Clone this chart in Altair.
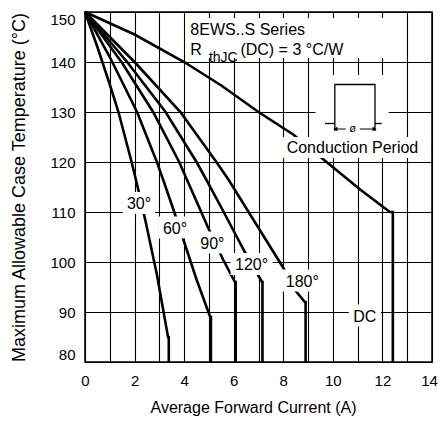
import altair as alt
import pandas as pd

FONT = "Liberation Sans"

# ---------------- data ----------------
x_ticks = list(range(0, 15))
y_ticks = [80, 90, 100, 110, 120, 130, 140, 150]

curve_names = ["DC", "180°", "120°", "90°", "60°", "30°"]
dc_i = [0, 2, 4, 5.5, 7, 8.4, 9.5, 11.1, 12.3, 12.42, 12.42]
dc_t = [150, 145.5, 140, 135.3, 130, 125.5, 121, 114.5, 110, 110, 80]
c180_i = [0, 2.0, 3.85, 5.3, 5.8, 6.65, 7.98, 8.47, 8.87, 8.9, 8.9]
c180_t = [150, 140, 130, 120, 116.4, 109.6, 99, 94.4, 92, 92, 80]
c120_i = [0, 1.7, 3.25, 4.5, 4.9, 5.5, 6.0, 6.45, 6.98, 7.14, 7.16, 7.16]
c120_t = [150, 140, 130, 120, 116.4, 110.9, 106.2, 102, 97.4, 96, 96, 80]
c90_i = [0, 1.5, 2.75, 3.8, 4.11, 4.6, 5.0, 5.57, 6.05, 6.08, 6.08]
c90_t = [150, 139.8, 130, 120, 116.5, 111, 106.5, 100.5, 96, 96, 80]
c60_i = [0, 1.0, 2.1, 2.9, 3.15, 3.6, 4.0, 4.5, 5.05, 5.08, 5.08]
c60_t = [150, 141, 130, 120, 116.5, 110, 104, 96.5, 89, 89, 80]
c30_i = [0, 0.5, 1.0, 1.35, 1.88, 2.1, 2.45, 2.9, 3.35, 3.38, 3.38]
c30_t = [150, 143, 135.5, 130, 120, 115.5, 108, 97.5, 85, 85, 80]

label_text = ["30°", "60°", "90°", "120°", "180°", "DC"]
label_i = [2.18, 3.63, 5.14, 6.72, 8.77, 11.29]
label_t = [110.6, 105.7, 102.7, 98.4, 95.1, 88.1]

# white annotation backgrounds: series note, pulse sketch, "Conduction Period"
box_i1 = [4.05, 9.3, 7.85]
box_i2 = [12.2, 12.25, 13.75]
box_t1 = [148.8, 137.4, 125.0]
box_t2 = [140.8, 124.8, 120.8]

note_text = ["8EWS..S Series", "R", "(DC) = 3 °C/W"]
note_i = [4.25, 4.25, 6.27]
note_t = [145.4, 141.4, 141.4]
sub_text = ["thJC"]
sub_i = [5.0]
sub_t = [140.0]

cond_text = ["Conduction Period"]
cond_i = [10.79]
cond_t = [121.9]

# pulse sketch (segments)
pulse_seg = [0, 0, 1, 1, 1, 1, 2, 2]
pulse_i = [9.68, 10.08, 10.08, 10.08, 11.7, 11.7, 11.7, 11.97]
pulse_t = [127.7, 127.7, 126.2, 135.5, 135.5, 126.2, 127.7, 127.7]
arrow_i = [10.1, 11.68]
arrow_t = [126.6, 126.6]
arrow_shape = ["triangle-left", "triangle-right"]
phi_text = ["ø"]
phi_i = [10.8]
phi_t = [126.7]

# ---------------- tables ----------------
rows = []
for name, xs_, ts_ in zip(curve_names,
                          [dc_i, c180_i, c120_i, c90_i, c60_i, c30_i],
                          [dc_t, c180_t, c120_t, c90_t, c60_t, c30_t]):
    for k, (a, b) in enumerate(zip(xs_, ts_)):
        rows.append({"curve": name, "order": k, "i": a, "t": b})
curves = pd.DataFrame(rows)
labels = pd.DataFrame({"label": label_text, "i": label_i, "t": label_t})
boxes = pd.DataFrame({"i": box_i1, "i2": box_i2, "t": box_t1, "t2": box_t2})
notes = pd.DataFrame({"label": note_text, "i": note_i, "t": note_t})
subs = pd.DataFrame({"label": sub_text, "i": sub_i, "t": sub_t})
cond = pd.DataFrame({"label": cond_text, "i": cond_i, "t": cond_t})
pulse = pd.DataFrame({"seg": pulse_seg, "order": list(range(len(pulse_i))), "i": pulse_i, "t": pulse_t})
arrow = pd.DataFrame({"i": arrow_i, "t": arrow_t, "shape": arrow_shape})
phi = pd.DataFrame({"label": phi_text, "i": phi_i, "t": phi_t})

xs = alt.Scale(domain=[0, 14], nice=False, zero=False)
ys = alt.Scale(domain=[80, 150], nice=False, zero=False)

x_axis = alt.Axis(
    values=x_ticks, labelExpr="datum.value % 2 === 0 ? datum.label : ''",
    grid=True, gridColor="black", gridWidth=1.1, gridOpacity=1,
    ticks=False, tickSize=0, domain=False, labelOverlap=False,
    labelFont=FONT, labelFontSize=15, labelColor="black", labelPadding=11, labelFlush=False,
    labelOffset={"condition": {"test": "datum.value === 14", "value": -3}, "value": 0},
    title="Average Forward Current (A)", titleFont=FONT, titleFontSize=16,
    titleFontWeight="normal", titleColor="black",
    titleX=168, titleY=37, titleAlign="center", titleBaseline="top")
y_axis = alt.Axis(
    values=y_ticks, grid=True, gridColor="black", gridWidth=1.1, gridOpacity=1,
    ticks=False, tickSize=0, domain=False, labelOverlap=False,
    labelFont=FONT, labelFontSize=15, labelColor="black", labelPadding=10,
    labelFlush=True, labelFlushOffset=0,
    title="Maximum Allowable Case Temperature (°C)", titleFont=FONT, titleFontSize=18,
    titleFontWeight="normal", titleColor="black",
    titleX=-57, titleY=175, titleAlign="center", titleBaseline="bottom", titleAngle=-90)


def X():
    return alt.X("i:Q", scale=xs, axis=x_axis)


def Y():
    return alt.Y("t:Q", scale=ys, axis=y_axis)


curve_layer = alt.Chart(curves).mark_line(color="black", strokeWidth=2.6).encode(
    x=X(), y=Y(), detail="curve:N", order="order:Q")

box_layer = alt.Chart(boxes).mark_rect(fill="white").encode(
    x=X(), x2="i2:Q", y=Y(), y2="t2:Q")

lab_box_short = alt.Chart(labels).transform_filter("length(datum.label) <= 3").mark_rect(
    fill="white", width=32, height=22, yOffset=-6).encode(x=X(), y=Y())
lab_box_long = alt.Chart(labels).transform_filter("length(datum.label) > 3").mark_rect(
    fill="white", width=42, height=22, yOffset=-6).encode(x=X(), y=Y())

lab_text = alt.Chart(labels).mark_text(
    font=FONT, fontSize=16, color="black", align="center", baseline="alphabetic").encode(
    x=X(), y=Y(), text="label:N")

note_layer = alt.Chart(notes).mark_text(
    font=FONT, fontSize=16, color="black", align="left", baseline="alphabetic").encode(
    x=X(), y=Y(), text="label:N")
sub_layer = alt.Chart(subs).mark_text(
    font=FONT, fontSize=14, color="black", align="left", baseline="alphabetic").encode(
    x=X(), y=Y(), text="label:N")
cond_layer = alt.Chart(cond).mark_text(
    font=FONT, fontSize=16, color="black", align="center", baseline="alphabetic").encode(
    x=X(), y=Y(), text="label:N")

pulse_layer = alt.Chart(pulse).mark_line(color="black", strokeWidth=1.3).encode(
    x=X(), y=Y(), detail="seg:N", order="order:Q")
arrow_line = alt.Chart(arrow).mark_line(color="black", strokeWidth=1).encode(x=X(), y=Y())
arrow_heads = alt.Chart(arrow).mark_point(filled=True, color="black", size=22, opacity=1).encode(
    x=X(), y=Y(), shape=alt.Shape("shape:N", scale=None))
phi_box = alt.Chart(phi).mark_rect(fill="white", width=14, height=10).encode(x=X(), y=Y())
phi_layer = alt.Chart(phi).mark_text(
    font=FONT, fontSize=11, color="black", align="center", baseline="middle").encode(
    x=X(), y=Y(), text="label:N")

chart = alt.layer(
    curve_layer, box_layer, lab_box_short, lab_box_long, lab_text,
    note_layer, sub_layer, cond_layer,
    pulse_layer, arrow_line, arrow_heads, phi_box, phi_layer
).properties(
    width=347, height=350,
    autosize=alt.AutoSizeParams(type="none"),
    padding={"left": 77, "top": 4, "right": 6, "bottom": 62},
    background="white",
).configure_view(stroke="black", strokeWidth=1.5)

chart.save("out.html", embed_options={"renderer": "svg", "actions": False})
